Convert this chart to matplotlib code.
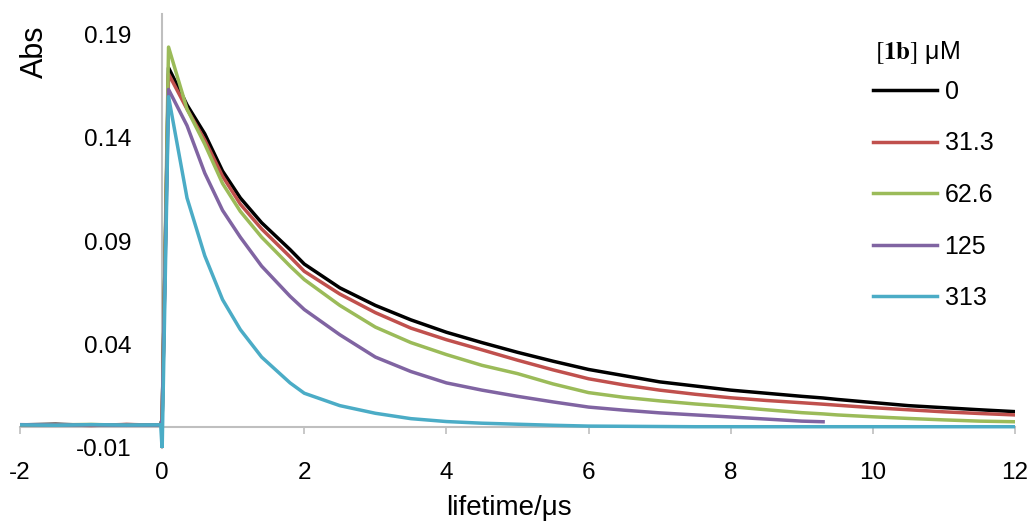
import numpy as np
import matplotlib
matplotlib.use("Agg")
import matplotlib.pyplot as plt

nan = np.nan

# time axis (microseconds) shared by all traces
t_us = [-2.0, -1.5, -1.0, -0.5, -0.02, 0.0, 0.09, 0.35, 0.6, 0.85, 1.1, 1.4, 1.8, 2.0,
        2.5, 3.0, 3.5, 4.0, 4.5, 5.0, 5.5, 6.0, 6.5, 7.0, 7.5, 8.0, 8.5, 9.0, 9.3,
        9.5, 10.0, 10.5, 11.0, 11.5, 12.0]

abs_0 = [0.0012, 0.0015, 0.0010, 0.0013, 0.0011, 0.004, 0.174, 0.156, 0.142, 0.124, 0.111,
         0.099, 0.086, 0.079, 0.0675, 0.059, 0.052, 0.046, 0.041, 0.0363, 0.032, 0.028,
         0.025, 0.022, 0.020, 0.018, 0.0165, 0.015, 0.0142, 0.0135, 0.012, 0.0105, 0.0095,
         0.0085, 0.0076]
abs_31 = [0.0010, 0.0013, 0.0009, 0.0014, 0.0010, 0.004, 0.171, 0.154, 0.139, 0.1215, 0.108,
          0.096, 0.0825, 0.0755, 0.0645, 0.0555, 0.048, 0.0424, 0.0375, 0.0325, 0.0278,
          0.0235, 0.0205, 0.018, 0.016, 0.0143, 0.013, 0.0119, 0.0112, 0.0107, 0.0095,
          0.0085, 0.0075, 0.0067, 0.006]
abs_63 = [0.0011, 0.0012, 0.0014, 0.0010, 0.0012, 0.004, 0.184, 0.154, 0.137, 0.118, 0.1045,
          0.092, 0.078, 0.0715, 0.059, 0.0485, 0.041, 0.0352, 0.030, 0.026, 0.021, 0.0168,
          0.0145, 0.0128, 0.0113, 0.010, 0.0085, 0.0071, 0.0065, 0.006, 0.0051, 0.0043,
          0.0036, 0.003, 0.0027]
abs_125 = [0.0013, 0.0011, 0.0012, 0.0010, 0.0011, 0.004, 0.1635, 0.146, 0.123, 0.105, 0.092,
           0.078, 0.0634, 0.057, 0.0448, 0.034, 0.027, 0.0215, 0.018, 0.015, 0.0123, 0.0098,
           0.0083, 0.007, 0.006, 0.005, 0.004, 0.003, 0.0027, nan, nan, nan, nan, nan, nan]
abs_313 = [0.0012, 0.0010, 0.0013, 0.0011, 0.0012, -0.011, 0.160, 0.111, 0.083, 0.0618,
           0.0473, 0.034, 0.0215, 0.0165, 0.0105, 0.0068, 0.0042, 0.0028, 0.002, 0.0015,
           0.001, 0.0006, 0.0005, 0.0004, 0.0003, 0.0003, 0.0003, 0.0003, 0.0003, 0.0003,
           0.0003, 0.0003, 0.0003, 0.0003, 0.0003]

labels = ["0", "31.3", "62.6", "125", "313"]
colors = ["#000000", "#C0504D", "#9BBB59", "#8064A2", "#4BACC6"]
series = [abs_0, abs_31, abs_63, abs_125, abs_313]

plt.rcParams['font.family'] = ['Liberation Sans', 'DejaVu Sans']
plt.rcParams['mathtext.fontset'] = 'stix'
plt.rcParams['axes.unicode_minus'] = False

fig = plt.figure(figsize=(10.35, 5.24), dpi=100)
ax = fig.add_axes([20/1035, 1-448/524, 995/1035, 434/524])

for vals, lab, col in zip(series, labels, colors):
    ax.plot(t_us, vals, color=col, lw=2.5, label=lab)

ax.set_xlim(-2, 12)
ax.set_ylim(-0.01, 0.20)
ax.set_xticks(np.arange(-2, 13, 2))
ax.set_yticks([-0.01, 0.04, 0.09, 0.14, 0.19])
ax.set_yticklabels(["-0.01", "0.04", "0.09", "0.14", "0.19"])

grey = "#BFBFBF"
for s in ["top", "right"]:
    ax.spines[s].set_visible(False)
for s in ["left", "bottom"]:
    ax.spines[s].set_position(("data", 0))
    ax.spines[s].set_color(grey)
    ax.spines[s].set_linewidth(1.5)
    ax.spines[s].set_zorder(0)

ax.tick_params(axis="y", length=0, pad=22, labelsize=17.5)
ax.tick_params(axis="x", direction="out", length=5, width=1.2, color=grey,
               pad=20, labelsize=17.5)

fig.text(34.5/1035, 1-52/524, "Abs", rotation=90, ha="center", va="center", fontsize=22)
fig.text(509/1035, 1-515/524, "lifetime/μs", ha="center", va="baseline", fontsize=20)

# legend title drawn separately so the entries can be spaced like the original
fig.text(875/1035, 1-52/524, r"$[\mathbf{1b}]$ μM", ha="left", va="center", fontsize=18)
ax.legend(loc="upper left", bbox_to_anchor=(873/1035, 1-80/524),
          bbox_transform=fig.transFigure, frameon=False, fontsize=18,
          handlelength=2.56, handletextpad=0.3, labelspacing=1.1,
          borderaxespad=0, borderpad=0)

fig.savefig("out.png", dpi=100)
